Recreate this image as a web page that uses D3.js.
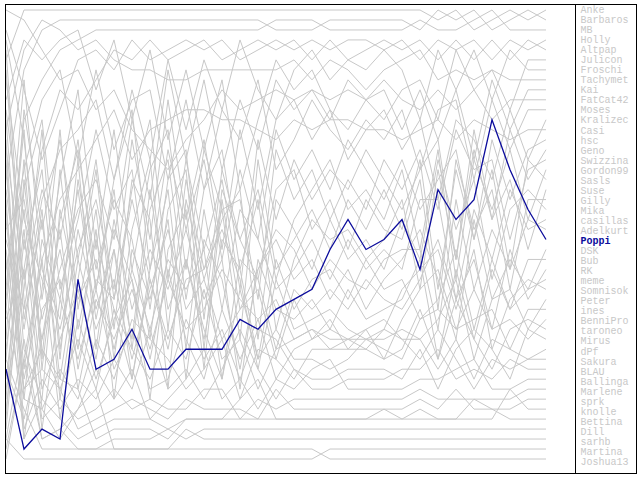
<!DOCTYPE html>
<html>
<head>
<meta charset="utf-8">
<script src="https://cdn.jsdelivr.net/npm/d3@7"></script>
<style>
  body { margin: 0; background: #fff; }
  text { font-family: "Liberation Mono", "DejaVu Sans Mono", monospace; font-size: 10px; }
</style>
</head>
<body>
<div id="chart"></div>
<script>
// matchdays 1..31
const rounds = [1,2,3,4,5,6,7,8,9,10,11,12,13,14,15,16,17,18,19,20,21,22,23,24,25,26,27,28,29,30,31];

// players in final table order (legend order)
const players = ["Anke","Barbaros","MB","Holly","Altpap","Julicon","Froschi","Tachymet","Kai","FatCat42",
  "Moses","Kralizec","Casi","hsc","Geno","Swizzina","Gordon99","Sasls","Suse","Gilly","Mika","casillas",
  "Adelkurt","Poppi","DSK","Bub","RK","meme","Somnisok","Peter","ines","BenniPro","taroneo","Mirus","dPf",
  "Sakura","BLAU","Ballinga","Marlene","sprk","knolle","Bettina","Dill","sarhb","Martina","Joshua13"];

const highlight = "Poppi";

// table position after each matchday
const anke     = [6,1,1,1,1,1,1,1,1,1, 1,1,1,1,1,1,1,1,1,1, 1,1,1,1,2,1,3,2,1,2, 1];
const barbaros = [18,7,3,2,2,2,2,2,2,2, 2,2,2,2,2,3,3,3,2,2, 2,2,2,3,1,2,1,3,2,1, 2];
const mb       = [30,12,8,5,4,3,3,3,3,3, 3,3,3,3,3,2,2,2,3,3, 3,3,3,2,3,3,2,1,3,3, 3];
const holly    = [3,9,16,11,6,5,7,4,6,5, 4,5,4,6,5,4,5,4,5,4, 4,5,4,6,4,5,4,6,4,5, 4];
const altpap   = [41,27,15,9,11,8,5,6,4,6, 5,4,6,5,4,5,4,6,4,6, 5,4,5,4,6,4,6,4,6,4, 5];
const julicon  = [10,4,6,4,3,9,4,12,5,14, 7,15,8,19,12,6,9,7,11,13, 10,12,9,8,12,5,9,7,11,6, 6];
const froschi  = [24,31,20,15,13,10,18,9,16,6, 13,6,11,4,9,12,7,5,8,6, 7,5,7,12,5,9,5,10,5,7, 7];
const tachymet = [13,5,2,3,5,4,6,7,7,8, 8,7,7,7,7,7,6,8,6,7, 9,7,6,5,8,7,8,7,8,8, 8];
const kai      = [37,42,34,27,21,18,24,12,20,7, 16,8,17,10,15,8,11,9,12,8, 10,9,13,9,14,9,16,8,13,9, 9];
const fatCat42 = [1,2,5,8,7,11,9,13,15,17, 14,12,9,11,10,9,10,9,10,9, 10,8,10,11,9,11,9,12,10,10, 10];
const moses    = [27,17,10,7,16,7,15,10,9,18, 10,19,11,14,8,17,14,10,13,15, 12,14,11,17,11,10,18,10,15,11, 11];
const kralizec = [8,22,28,33,25,20,29,14,24,10, 22,14,25,13,21,12,10,14,11,16, 13,11,15,12,20,12,14,18,11,16, 12];
const casi     = [45,36,26,20,17,14,11,16,13,12, 11,11,12,12,13,14,12,13,12,12, 13,13,14,13,12,14,12,13,14,13, 13];
const hsc      = [15,28,19,24,14,29,18,11,27,15, 23,16,26,17,24,13,18,15,19,14, 17,20,16,21,18,15,24,14,20,15, 14];
const geno     = [34,11,23,14,26,16,30,19,12,28, 16,25,18,29,14,22,16,20,17,19, 15,18,21,17,14,26,13,22,13,18, 15];
const swizzina = [4,14,30,18,9,25,13,27,17,13, 27,15,21,20,30,15,20,17,22,18, 21,16,19,15,21,13,17,16,24,17, 16];
const gordon99 = [42,19,12,29,22,13,21,17,31,18, 15,32,17,24,19,28,22,19,16,21, 19,22,17,25,15,28,16,21,15,22, 17];
const sasls    = [21,38,29,13,31,21,36,23,16,33, 18,27,21,34,16,27,24,21,25,20, 23,19,23,16,29,17,24,17,27,16, 18];
const suse     = [11,25,17,36,18,29,19,35,21,16, 30,19,15,27,20,33,26,22,24,23, 26,24,20,29,17,26,15,22,18,25, 19];
const gilly    = [36,16,37,22,15,27,20,24,34,21, 17,35,19,24,28,19,17,23,20,25, 20,23,24,18,31,16,23,19,29,20, 20];
const mika     = [19,33,21,40,28,17,33,18,22,39, 20,28,22,19,34,20,23,27,22,26, 24,27,22,26,16,23,18,28,21,19, 21];
const casillas = [31,13,36,17,33,24,31,38,27,19, 35,21,31,21,24,29,27,24,28,24, 27,25,27,20,20,30,21,26,19,23, 22];
const adelkurt = [16,40,24,30,19,32,23,28,40,25, 21,37,20,31,27,23,25,29,26,28, 29,26,25,25,33,20,29,23,27,22, 23];
const poppi    = [37,45,43,44,28,37,36,33,37,37, 35,35,35,32,33,31,30,29,25,22, 25,24,22,27,19,22,20,12,17,21, 24];
const dsk      = [23,20,32,25,35,23,40,25,30,22, 38,24,28,37,27,24,28,26,30,27, 31,28,26,23,28,34,22,30,26,29, 25];
const bub      = [39,29,13,35,23,31,25,34,19,31, 26,34,24,27,36,26,31,28,27,30, 26,29,28,32,30,25,33,26,31,26, 26];
const rk       = [12,35,40,21,30,26,35,27,33,26, 29,25,38,26,28,35,29,31,29,31, 28,30,31,28,24,30,26,33,25,30, 27];
const meme     = [29,8,27,32,16,35,22,31,25,29, 23,30,26,39,26,31,32,30,33,29, 32,31,30,26,36,27,34,27,31,29, 28];
const somnisok = [43,24,34,23,37,28,30,20,28,34, 28,27,23,28,37,28,33,32,31,33, 34,33,29,27,25,31,25,35,30,28, 29];
const peter    = [7,32,22,38,26,33,28,36,29,23, 31,28,34,31,29,36,30,34,32,35, 33,32,34,34,32,28,36,30,29,33, 30];
const ines     = [26,44,31,28,39,30,34,29,35,28, 33,31,27,30,32,30,34,33,35,34, 35,36,32,29,27,33,32,31,35,31, 31];
const benniPro = [35,21,39,34,29,36,25,38,28,35, 26,33,38,29,36,33,36,36,37,36, 34,35,36,32,31,33,29,33,32,34, 32];
const taroneo  = [17,37,26,42,32,38,32,28,36,27, 34,38,31,36,32,38,35,34,33,34, 33,36,35,31,36,30,34,37,33,32, 33];
const mirus    = [32,27,43,30,36,29,37,33,39,38, 32,36,33,38,33,34,37,38,38,37, 37,37,38,35,39,35,33,35,38,33, 34];
const dPf      = [22,39,35,39,34,39,31,35,38,33, 36,29,36,34,39,35,34,33,34,34, 34,34,33,34,37,34,38,34,35,36, 35];
const sakura   = [38,23,41,37,40,34,38,32,34,36, 39,37,34,40,35,36,38,35,35,35, 35,33,34,36,33,36,39,36,37,36, 36];
const blau     = [14,43,38,41,38,40,36,39,33,39, 37,40,37,33,37,40,37,39,39,38, 38,38,37,37,35,38,37,38,36,37, 37];
const ballinga = [44,34,44,43,41,37,40,37,42,40, 38,35,40,38,41,38,39,37,36,39, 39,39,39,38,38,37,36,39,39,38, 38];
const marlene  = [5,30,42,40,42,41,39,41,40,41, 41,39,39,42,40,41,40,40,40,40, 40,40,40,39,40,40,40,40,40,39, 39];
const sprk     = [25,39,37,39,43,42,41,40,41,42, 40,41,41,41,42,39,41,41,41,41, 41,41,41,40,41,39,41,41,41,40, 40];
const knolle   = [20,44,40,42,44,43,42,42,42,43, 42,42,42,40,38,42,42,42,42,42, 42,42,42,42,42,42,42,42,39,41, 41];
const bettina  = [40,18,35,38,39,44,43,43,43,44, 42,42,42,42,42,42,42,42,42,42, 42,41,42,41,42,42,40,41,42,42, 42];
const dill     = [46,36,44,43,45,45,44,44,44,43, 44,43,43,43,43,43,43,43,43,43, 43,43,43,43,43,43,43,43,43,43, 43];
const sarhb    = [31,40,41,44,41,39,45,45,45,45, 43,44,44,44,44,44,44,44,44,44, 44,44,44,44,44,44,44,44,44,44, 44];
const martina  = [44,46,46,46,46,46,46,46,46,46, 46,46,46,46,46,46,46,46,45,45, 45,45,45,45,45,45,45,45,45,45, 45];
const joshua13 = [36,41,45,45,45,45,45,45,45,45, 45,45,45,45,45,45,45,45,46,46, 46,46,46,46,46,46,46,46,46,46, 46];

const rankRows = [anke, barbaros, mb, holly, altpap, julicon, froschi, tachymet, kai, fatCat42,
  moses, kralizec, casi, hsc, geno, swizzina, gordon99, sasls, suse, gilly, mika, casillas,
  adelkurt, poppi, dsk, bub, rk, meme, somnisok, peter, ines, benniPro, taroneo, mirus, dPf,
  sakura, blau, ballinga, marlene, sprk, knolle, bettina, dill, sarhb, martina, joshua13];

const series = players.map((name, i) => ({
  name,
  values: rounds.map((r, j) => ({ round: r, rank: rankRows[i][j] }))
}));

const W = 640, H = 480;
const grey = "#c8c8c8", blue = "#0c0c9c";

const svg = d3.select("#chart")
  .append("svg")
  .attr("width", W)
  .attr("height", H);

const xScale = d3.scaleLinear()
  .domain([1, 31])
  .range([6, 546]);

const yScale = d3.scaleLinear()
  .domain([1, players.length])
  .range([10, 459]);

const line = d3.line()
  .x(d => xScale(d.round))
  .y(d => yScale(d.rank));

// grey lines first, highlighted player on top
const ordered = series.filter(s => s.name !== highlight)
  .concat(series.filter(s => s.name === highlight));

svg.append("g")
  .selectAll("path")
  .data(ordered)
  .join("path")
  .attr("fill", "none")
  .attr("stroke", d => d.name === highlight ? blue : grey)
  .attr("stroke-width", d => d.name === highlight ? 1.3 : 1)
  .attr("d", d => line(d.values));

// frame and legend separator
svg.append("rect")
  .attr("x", 5.5)
  .attr("y", 4.5)
  .attr("width", 630.5)
  .attr("height", 469)
  .attr("fill", "none")
  .attr("stroke", "#000")
  .attr("shape-rendering", "crispEdges");

svg.append("line")
  .attr("x1", 575.5).attr("x2", 575.5)
  .attr("y1", 4.5).attr("y2", 473.5)
  .attr("stroke", "#000")
  .attr("shape-rendering", "crispEdges");

// legend
const legendY = d3.scaleLinear()
  .domain([0, players.length - 1])
  .range([13, 465]);

svg.append("g")
  .selectAll("text")
  .data(players)
  .join("text")
  .attr("x", 580.5)
  .attr("y", (d, i) => legendY(i))
  .attr("fill", d => d === highlight ? blue : "#c8c8c8")
  .attr("font-weight", d => d === highlight ? "bold" : "normal")
  .text(d => d);
</script>
</body>
</html>
